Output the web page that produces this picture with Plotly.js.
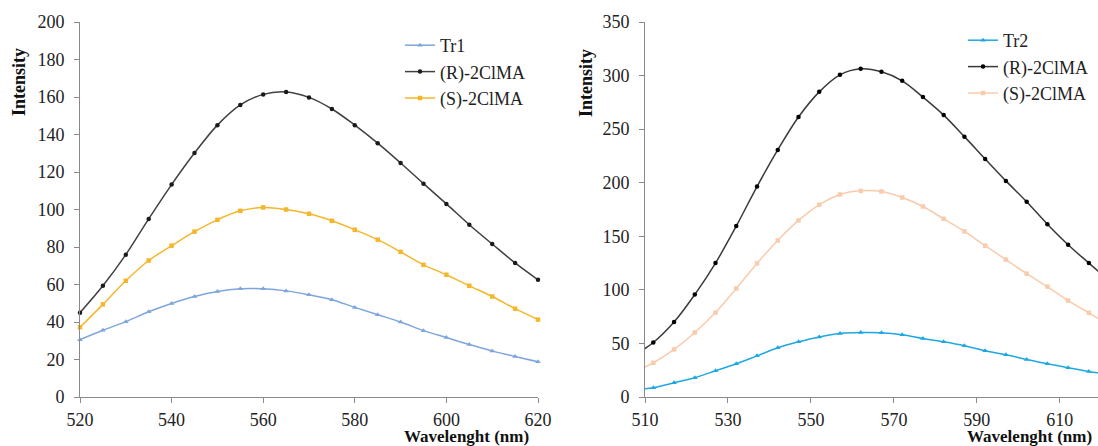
<!DOCTYPE html>
<html>
<head>
<meta charset="utf-8">
<script src="https://cdn.plot.ly/plotly-3.0.1.min.js"></script>
<style>html,body{margin:0;padding:0;background:#fff;font-family:'Liberation Serif',serif;}#chart{width:1098px;height:446px;}</style>
</head>
<body>
<div id="chart"></div>
<script>
// Left panel (Tr1)
const wlLeft = [520, 525, 530, 535, 540, 545, 550, 555, 560, 565, 570, 575, 580, 585, 590, 595, 600, 605, 610, 615, 620];
const tr1 = [30.6, 35.6, 40.2, 45.5, 49.9, 53.6, 56.3, 57.7, 57.7, 56.6, 54.5, 51.9, 47.8, 43.9, 40.0, 35.4, 31.7, 28.0, 24.6, 21.6, 18.8];
const r2ClMA_left = [45.0, 59.3, 75.9, 95.0, 113.3, 130.1, 145.0, 155.8, 161.4, 162.7, 159.8, 153.6, 145.0, 135.4, 124.8, 113.8, 103.0, 91.9, 81.6, 71.5, 62.5];
const s2ClMA_left = [37.2, 49.4, 62.0, 72.8, 80.7, 88.2, 94.5, 99.3, 101.1, 100.0, 97.7, 94.0, 89.2, 83.9, 77.4, 70.5, 65.2, 59.3, 53.6, 47.1, 41.3];

// Right panel (Tr2) - first and last points lie just outside the visible range
const wlRight = [507, 512, 517, 522, 527, 532, 537, 542, 547, 552, 557, 562, 567, 572, 577, 582, 587, 592, 597, 602, 607, 612, 617, 622];
const tr2 = [6.5, 8.7, 13.3, 18.0, 24.5, 31.0, 38.4, 45.9, 51.5, 56.1, 59.3, 60.2, 59.9, 58.0, 54.6, 51.5, 47.8, 43.1, 39.4, 35.1, 31.0, 27.3, 23.9, 21.0];
const r2ClMA_right = [38, 50.9, 70.0, 95.6, 125.0, 159.5, 196.4, 230.6, 261.3, 284.8, 300.7, 306.3, 303.5, 295.1, 279.9, 263.1, 243.0, 222.2, 201.7, 182.2, 161.3, 142.1, 125.0, 108];
const s2ClMA_right = [23, 31.9, 44.4, 60.2, 78.8, 101.2, 124.7, 146.1, 164.8, 179.4, 189.0, 192.4, 191.8, 186.2, 177.8, 166.3, 154.5, 141.2, 128.2, 115.1, 103.0, 90.0, 78.5, 67];

const namesLeft = ['Tr1', '(R)-2ClMA', '(S)-2ClMA'];
const namesRight = ['Tr2', '(R)-2ClMA', '(S)-2ClMA'];
const yTitle = 'Intensity';
const xTitle = 'Wavelenght (nm)';

const W = 1098, H = 446;
const px = v => v / W;
const py = v => (H - v) / H;
const FONT = "'Liberation Serif', 'Times New Roman', 'DejaVu Serif', serif";

function tr(x, y, name, color, symbol, size, xa, ya, lg, clip) {
  return {
    x: x, y: y, name: name, type: 'scatter', mode: 'lines+markers',
    line: {color: color, width: 1.5, shape: 'spline', smoothing: 1},
    marker: {color: color, symbol: symbol, size: size},
    xaxis: xa, yaxis: ya, legend: lg, cliponaxis: clip
  };
}

const data = [
  tr(wlLeft, tr1, namesLeft[0], '#7EA6DC', 'triangle-up', 5, 'x', 'y', 'legend', false),
  tr(wlLeft, r2ClMA_left, namesLeft[1], '#404040', 'circle', 4.5, 'x', 'y', 'legend', false),
  tr(wlLeft, s2ClMA_left, namesLeft[2], '#F5B62B', 'square', 4.5, 'x', 'y', 'legend', false),
  tr(wlRight, tr2, namesRight[0], '#1EA8E2', 'triangle-up', 5, 'x2', 'y2', 'legend2', true),
  tr(wlRight, r2ClMA_right, namesRight[1], '#3a3a3a', 'circle', 4.5, 'x2', 'y2', 'legend2', true),
  tr(wlRight, s2ClMA_right, namesRight[2], '#F9CBAD', 'square', 4.5, 'x2', 'y2', 'legend2', true)
];
data[1].marker.color = '#1a1a1a';
data[4].marker.color = '#000000';

const axisCommon = {
  showgrid: false, zeroline: false, showline: true, linecolor: '#8a8a8a', linewidth: 1,
  ticks: 'outside', ticklen: 5, tickcolor: '#8a8a8a', tickwidth: 1,
  tickfont: {family: FONT, size: 18, color: '#222'}, fixedrange: true
};

const layout = {
  width: W, height: H,
  margin: {l: 0, r: 0, t: 0, b: 0},
  paper_bgcolor: '#fff', plot_bgcolor: 'rgba(0,0,0,0)',
  showlegend: true,
  font: {family: FONT, size: 18, color: '#222'},
  xaxis: Object.assign({}, axisCommon, {domain: [px(80), px(538)], range: [520, 620], tick0: 520, dtick: 20, anchor: 'y', ticklabelstandoff: 1}),
  yaxis: Object.assign({}, axisCommon, {domain: [py(397), py(22)], range: [0, 200], dtick: 20, anchor: 'x', ticklabelstandoff: 6}),
  xaxis2: Object.assign({}, axisCommon, {domain: [px(645), 1], range: [510, 619.2], tick0: 510, dtick: 20, anchor: 'y2', ticklabelstandoff: 1}),
  yaxis2: Object.assign({}, axisCommon, {domain: [py(397), py(22)], range: [0, 350], dtick: 50, anchor: 'x2', ticklabelstandoff: 6}),
  legend: {x: px(400), y: py(27), xanchor: 'left', yanchor: 'top', bgcolor: 'rgba(0,0,0,0)',
           font: {family: FONT, size: 18, color: '#222'}, itemwidth: 30, tracegroupgap: 0},
  legend2: {x: px(963), y: py(22), xanchor: 'left', yanchor: 'top', bgcolor: 'rgba(0,0,0,0)',
           font: {family: FONT, size: 18, color: '#222'}, itemwidth: 30, tracegroupgap: 0},
  annotations: [
    {text: '<b>' + yTitle + '</b>', xref: 'paper', yref: 'paper', x: px(19), y: py(82), textangle: -90,
     showarrow: false, xanchor: 'center', yanchor: 'middle', font: {family: FONT, size: 18, color: '#111'}},
    {text: '<b>' + yTitle + '</b>', xref: 'paper', yref: 'paper', x: px(586), y: py(83), textangle: -90,
     showarrow: false, xanchor: 'center', yanchor: 'middle', font: {family: FONT, size: 18, color: '#111'}},
    {text: '<b>' + xTitle + '</b>', xref: 'paper', yref: 'paper', x: px(531), y: py(436),
     showarrow: false, xanchor: 'right', yanchor: 'middle', font: {family: FONT, size: 17, color: '#111'}},
    {text: '<b>' + xTitle + '</b>', xref: 'paper', yref: 'paper', x: px(1094), y: py(436),
     showarrow: false, xanchor: 'right', yanchor: 'middle', font: {family: FONT, size: 17, color: '#111'}}
  ]
};

Plotly.newPlot('chart', data, layout, {staticPlot: true, displayModeBar: false});
</script>
</body>
</html>
